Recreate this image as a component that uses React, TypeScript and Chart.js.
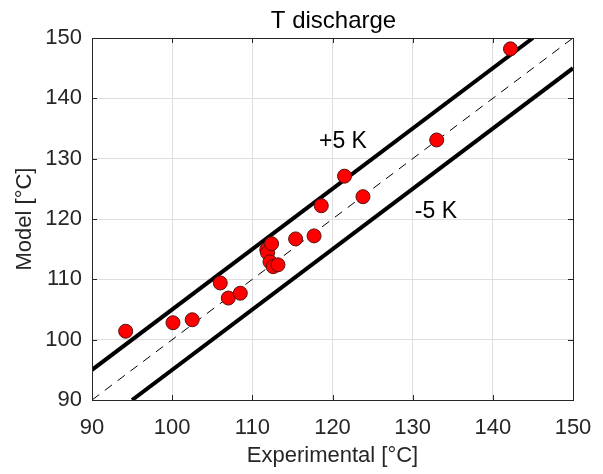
import React, { useEffect, useRef } from "react";
import { Chart, registerables } from "chart.js";

Chart.register(...registerables);

const expX = [94.2, 100.1, 102.5, 106.0, 107.0, 108.5, 111.8, 111.9, 112.4, 112.2, 112.6, 113.2, 115.4, 117.7, 118.6, 121.5, 123.8, 133.0, 142.2];
const modelY = [101.4, 102.8, 103.3, 109.4, 106.9, 107.7, 114.9, 114.4, 115.9, 112.9, 112.1, 112.4, 116.7, 117.2, 122.2, 127.1, 123.7, 133.1, 148.2];
const tickValues = [90, 100, 110, 120, 130, 140, 150];
const plusLine = [{ x: 90, y: 95 }, { x: 145, y: 150 }];
const minusLine = [{ x: 95, y: 90 }, { x: 150, y: 145 }];
const idLine = [{ x: 90, y: 90 }, { x: 150, y: 150 }];
const annotations = [
  { text: "+5 K", x: 121.3, y: 132.9 },
  { text: "-5 K", x: 132.9, y: 121.2 },
];

const FONT = "'Liberation Sans', Arial, Helvetica, sans-serif";
const TXT = "#262626";

const framePlugin = {
  id: "frame",
  afterDraw(chart: any) {
    const { ctx, chartArea: a, scales } = chart;
    const xs = scales.x, ys = scales.y;
    ctx.save();
    // annotations
    ctx.fillStyle = "#000";
    ctx.font = `23px ${FONT}`;
    ctx.textAlign = "center";
    ctx.textBaseline = "middle";
    annotations.forEach((t) => {
      ctx.fillText(t.text, xs.getPixelForValue(t.x), ys.getPixelForValue(t.y));
    });
    // box
    ctx.strokeStyle = TXT;
    ctx.lineWidth = 1;
    ctx.strokeRect(Math.round(a.left) + 0.5, Math.round(a.top) + 0.5, Math.round(a.right - a.left), Math.round(a.bottom - a.top));
    // inward ticks
    const L = 5;
    ctx.beginPath();
    tickValues.forEach((v) => {
      const px = Math.round(xs.getPixelForValue(v)) + 0.5;
      ctx.moveTo(px, a.bottom); ctx.lineTo(px, a.bottom - L);
      ctx.moveTo(px, a.top); ctx.lineTo(px, a.top + L);
      const py = Math.round(ys.getPixelForValue(v)) + 0.5;
      ctx.moveTo(a.left, py); ctx.lineTo(a.left + L, py);
      ctx.moveTo(a.right, py); ctx.lineTo(a.right - L, py);
    });
    ctx.stroke();
    // title
    ctx.fillStyle = "#000";
    ctx.font = `24px ${FONT}`;
    ctx.textBaseline = "alphabetic";
    ctx.fillText("T discharge", (a.left + a.right) / 2 + 1, 28);
    ctx.restore();
  },
};

export default function App() {
  const ref = useRef<HTMLCanvasElement>(null);
  useEffect(() => {
    document.body.style.margin = "0";
    const chart = new Chart(ref.current!, {
      type: "scatter",
      data: {
        datasets: [
          {
            type: "scatter",
            data: expX.map((x, i) => ({ x, y: modelY[i] })),
            backgroundColor: "#ff0000",
            borderColor: "#5a1010",
            borderWidth: 1,
            pointRadius: 7,
            order: 0,
          } as any,
          {
            type: "line",
            data: plusLine,
            borderColor: "#000",
            borderWidth: 4,
            pointRadius: 0,
            order: 1,
          },
          {
            type: "line",
            data: minusLine,
            borderColor: "#000",
            borderWidth: 4,
            pointRadius: 0,
            order: 1,
          },
          {
            type: "line",
            data: idLine,
            borderColor: "#000",
            borderWidth: 1,
            borderDash: [9, 7],
            pointRadius: 0,
            order: 1,
          },
        ],
      },
      options: {
        responsive: false,
        animation: false,
        layout: { padding: { top: 38, right: 30, left: 0, bottom: 0 } },
        plugins: { legend: { display: false }, tooltip: { enabled: false }, title: { display: false } },
        scales: {
          x: {
            type: "linear",
            min: 90,
            max: 150,
            afterFit: (s: any) => { s.height = 74; s.paddingLeft = 0; s.paddingRight = 0; },
            afterBuildTicks: (s: any) => { s.ticks = tickValues.map((v) => ({ value: v })); },
            grid: { color: "#dedede", drawTicks: false, lineWidth: 1 },
            border: { display: false },
            ticks: { color: TXT, font: { family: FONT, size: 22 }, padding: 15, maxRotation: 0 },
            title: { display: true, text: "Experimental [°C]", color: TXT, font: { family: FONT, size: 22 }, padding: { top: 0, bottom: 5 } },
          },
          y: {
            type: "linear",
            min: 90,
            max: 150,
            afterFit: (s: any) => { s.width = 92; s.paddingTop = 0; s.paddingBottom = 0; },
            afterBuildTicks: (s: any) => { s.ticks = tickValues.map((v) => ({ value: v })); },
            grid: { color: "#dedede", drawTicks: false, lineWidth: 1 },
            border: { display: false },
            ticks: { color: TXT, font: { family: FONT, size: 22 }, padding: 10 },
            title: { display: true, text: "Model [°C]", color: TXT, font: { family: FONT, size: 22 }, padding: { top: 12, bottom: 0 } },
          },
        },
      },
      plugins: [framePlugin],
    });
    return () => chart.destroy();
  }, []);
  return <canvas ref={ref} width={603} height={474} style={{ display: "block" }} />;
}
